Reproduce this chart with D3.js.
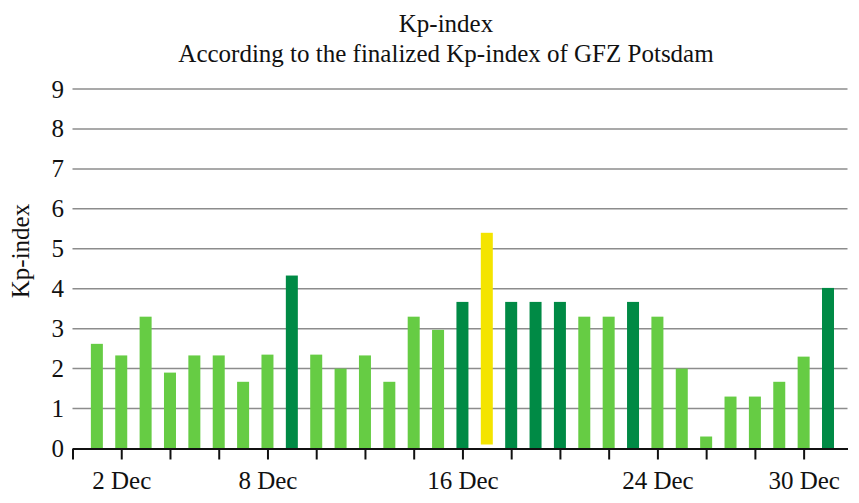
<!DOCTYPE html>
<html>
<head>
<meta charset="utf-8">
<script src="https://cdn.jsdelivr.net/npm/d3@7"></script>
<style>
  body { margin: 0; background: #fff; }
  svg text { fill: #111; }
</style>
</head>
<body>
<div id="chart"></div>
<script>
// Kp-index for December (day of month -> daily value)
const days = d3.range(1, 32);
const kpValues = [2.62, 2.33, 3.3, 1.9, 2.33, 2.33, 1.67, 2.35, 4.33, 2.35, 2.0, 2.33, 1.67, 3.3, 2.97,
  3.67, 5.4, 3.67, 3.67, 3.67, 3.3, 3.3, 3.67, 3.3, 2.0, 0.3, 1.3, 1.3, 1.67, 2.3, 4.02];
// the yellow bar does not quite start from zero in the original
const kpBases = days.map(d => d === 17 ? 0.1 : 0);
const yTicks = d3.range(0, 10);
const xTicks = d3.range(0, 32, 2);
const xLabels = { 2: "2 Dec", 8: "8 Dec", 16: "16 Dec", 24: "24 Dec", 30: "30 Dec" };

const width = 859;
const height = 503;
const serif = "'Liberation Serif', 'Times New Roman', Times, serif";
const fontSize = "25px";

const svg = d3.select("#chart")
  .append("svg")
  .attr("width", width)
  .attr("height", height);

const x = d3.scaleLinear().domain([0, 31.8]).range([72.5, 847.5]);
const y = d3.scaleLinear().domain([0, 9]).range([448.5, 89]);

function barColor(v) {
  if (v >= 5) return "#f4e400";
  if (v >= 3.5) return "#008a45";
  return "#66cc44";
}

// grid lines
svg.append("g")
  .selectAll("line")
  .data(yTicks.filter(t => t > 0))
  .enter()
  .append("line")
  .attr("x1", x(0))
  .attr("x2", x(31.8))
  .attr("y1", d => y(d))
  .attr("y2", d => y(d))
  .attr("stroke", "#8c8c8c")
  .attr("stroke-width", 1.5);

// y tick labels
svg.append("g")
  .selectAll("text")
  .data(yTicks)
  .enter()
  .append("text")
  .attr("x", 64)
  .attr("y", d => y(d))
  .attr("dy", "0.34em")
  .attr("text-anchor", "end")
  .attr("font-family", serif)
  .style("font-size", fontSize)
  .text(d => d);

// bars
const barW = 12;
svg.append("g")
  .selectAll("rect")
  .data(days)
  .enter()
  .append("rect")
  .attr("x", d => x(d) - barW / 2)
  .attr("y", (d, i) => y(kpValues[i]))
  .attr("width", barW)
  .attr("height", (d, i) => y(kpBases[i]) - y(kpValues[i]))
  .attr("fill", (d, i) => barColor(kpValues[i]));

// x axis
const xAxis = d3.axisBottom(x)
  .tickValues(xTicks)
  .tickSize(11)
  .tickSizeOuter(0)
  .tickFormat(d => xLabels[d] || "");

const gx = svg.append("g")
  .attr("transform", `translate(0,${y(0)})`)
  .call(xAxis)
  .attr("font-family", serif)
  .attr("font-size", fontSize);
gx.select(".domain").attr("stroke", "#111").attr("stroke-width", 2);
gx.selectAll(".tick line").attr("stroke", "#111").attr("stroke-width", 2);
gx.selectAll(".tick text")
  .attr("y", 40)
  .attr("dy", null)
  .attr("fill", "#111");

// y axis label
svg.append("text")
  .attr("transform", "translate(29,251) rotate(-90)")
  .attr("text-anchor", "middle")
  .attr("font-family", serif)
  .style("font-size", fontSize)
  .text("Kp-index");

// titles
svg.append("text")
  .attr("x", 446)
  .attr("y", 32)
  .attr("text-anchor", "middle")
  .attr("font-family", serif)
  .style("font-size", fontSize)
  .text("Kp-index");

svg.append("text")
  .attr("x", 446)
  .attr("y", 62)
  .attr("text-anchor", "middle")
  .attr("font-family", serif)
  .style("font-size", fontSize)
  .text("According to the finalized Kp-index of GFZ Potsdam");
</script>
</body>
</html>
